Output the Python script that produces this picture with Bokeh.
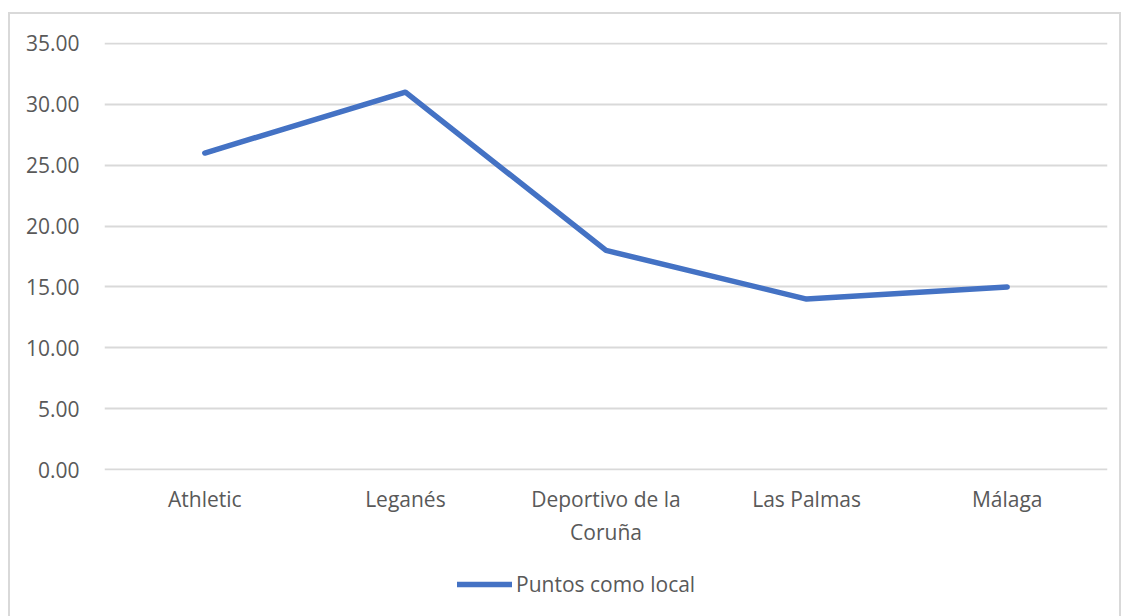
from bokeh.plotting import figure
from bokeh.layouts import column
from bokeh.models import FixedTicker, NumeralTickFormatter, Legend, LegendItem, ColumnDataSource, Range1d, LinearAxis
from bokeh.embed import file_html
from bokeh.resources import INLINE

categories = ["Athletic", "Leganés", "Deportivo de la Coruña", "Las Palmas", "Málaga"]
label_line1 = ["Athletic", "Leganés", "Deportivo de la", "Las Palmas", "Málaga"]
label_line2 = ["", "", "Coruña", "", ""]
points_home = [26, 31, 18, 14, 15]
series_name = "Puntos como local"
y_ticks = [0, 5, 10, 15, 20, 25, 30, 35]

FONT = "Open Sans"
FSIZE = "21px"
TXT = "#595959"
GRID = "#D9D9D9"
BLUE = "#4472C4"

idx = list(range(len(categories)))

p = figure(
    x_range=Range1d(-0.5, len(categories) - 0.5),
    y_range=Range1d(-0.08, 35.08),
    width=1109, height=534,
    output_backend="svg", toolbar_location=None,
    min_border_left=94, min_border_right=12, min_border_top=28, min_border_bottom=77,
    x_axis_location=None,
)
p.outline_line_color = None
p.background_fill_color = "white"
p.border_fill_color = "white"

src = ColumnDataSource(dict(x=idx, y=points_home, cat=categories))
r = p.line("x", "y", source=src, line_color=BLUE, line_width=5.5, line_cap="round", line_join="round")

p.yaxis.ticker = FixedTicker(ticks=y_ticks)
p.yaxis.formatter = NumeralTickFormatter(format="0.00")
p.yaxis.axis_line_color = None
p.yaxis.major_tick_line_color = None
p.yaxis.minor_tick_line_color = None
p.yaxis.major_label_text_font = FONT
p.yaxis.major_label_text_font_size = FSIZE
p.yaxis.major_label_text_color = TXT
p.yaxis.major_label_standoff = 19

def make_x_axis(labels, standoff):
    ax = LinearAxis(ticker=FixedTicker(ticks=idx),
                    major_label_overrides={i: lab for i, lab in zip(idx, labels)})
    ax.axis_line_color = None
    ax.major_tick_line_color = None
    ax.minor_tick_line_color = None
    ax.major_label_text_font = FONT
    ax.major_label_text_font_size = FSIZE
    ax.major_label_text_color = TXT
    ax.major_label_standoff = standoff
    return ax

p.add_layout(make_x_axis(label_line1, 8), "below")
p.add_layout(make_x_axis(label_line2, -4), "below")

p.xgrid.grid_line_color = None
p.ygrid.grid_line_color = GRID
p.ygrid.grid_line_width = 2

# legend strip below the chart
lg = figure(x_range=Range1d(0, 1), y_range=Range1d(0, 1), width=1109, height=68,
            output_backend="svg", toolbar_location=None,
            min_border_left=0, min_border_right=0, min_border_top=0, min_border_bottom=0,
            x_axis_location=None, y_axis_location=None)
lg.outline_line_color = None
lg.grid.grid_line_color = None
lg.border_fill_color = "white"
lr = lg.line("x", "y", source=src, line_color=BLUE, line_width=5.5, line_cap="round")
legend = Legend(items=[LegendItem(label=series_name, renderers=[lr])],
                location=(353, 18), orientation="horizontal",
                label_text_font=FONT, label_text_font_size=FSIZE, label_text_color=TXT,
                glyph_width=55, label_standoff=4, border_line_color=None,
                background_fill_alpha=0, margin=0, padding=0)
lg.add_layout(legend)

layout = column(p, lg, spacing=0,
                styles={"margin-top": "12px", "margin-left": "8px",
                        "border-left": f"2px solid {GRID}",
                        "border-top": f"2px solid {GRID}", "border-right": f"2px solid {GRID}"})

open("out.html", "w").write(file_html(layout, INLINE))
